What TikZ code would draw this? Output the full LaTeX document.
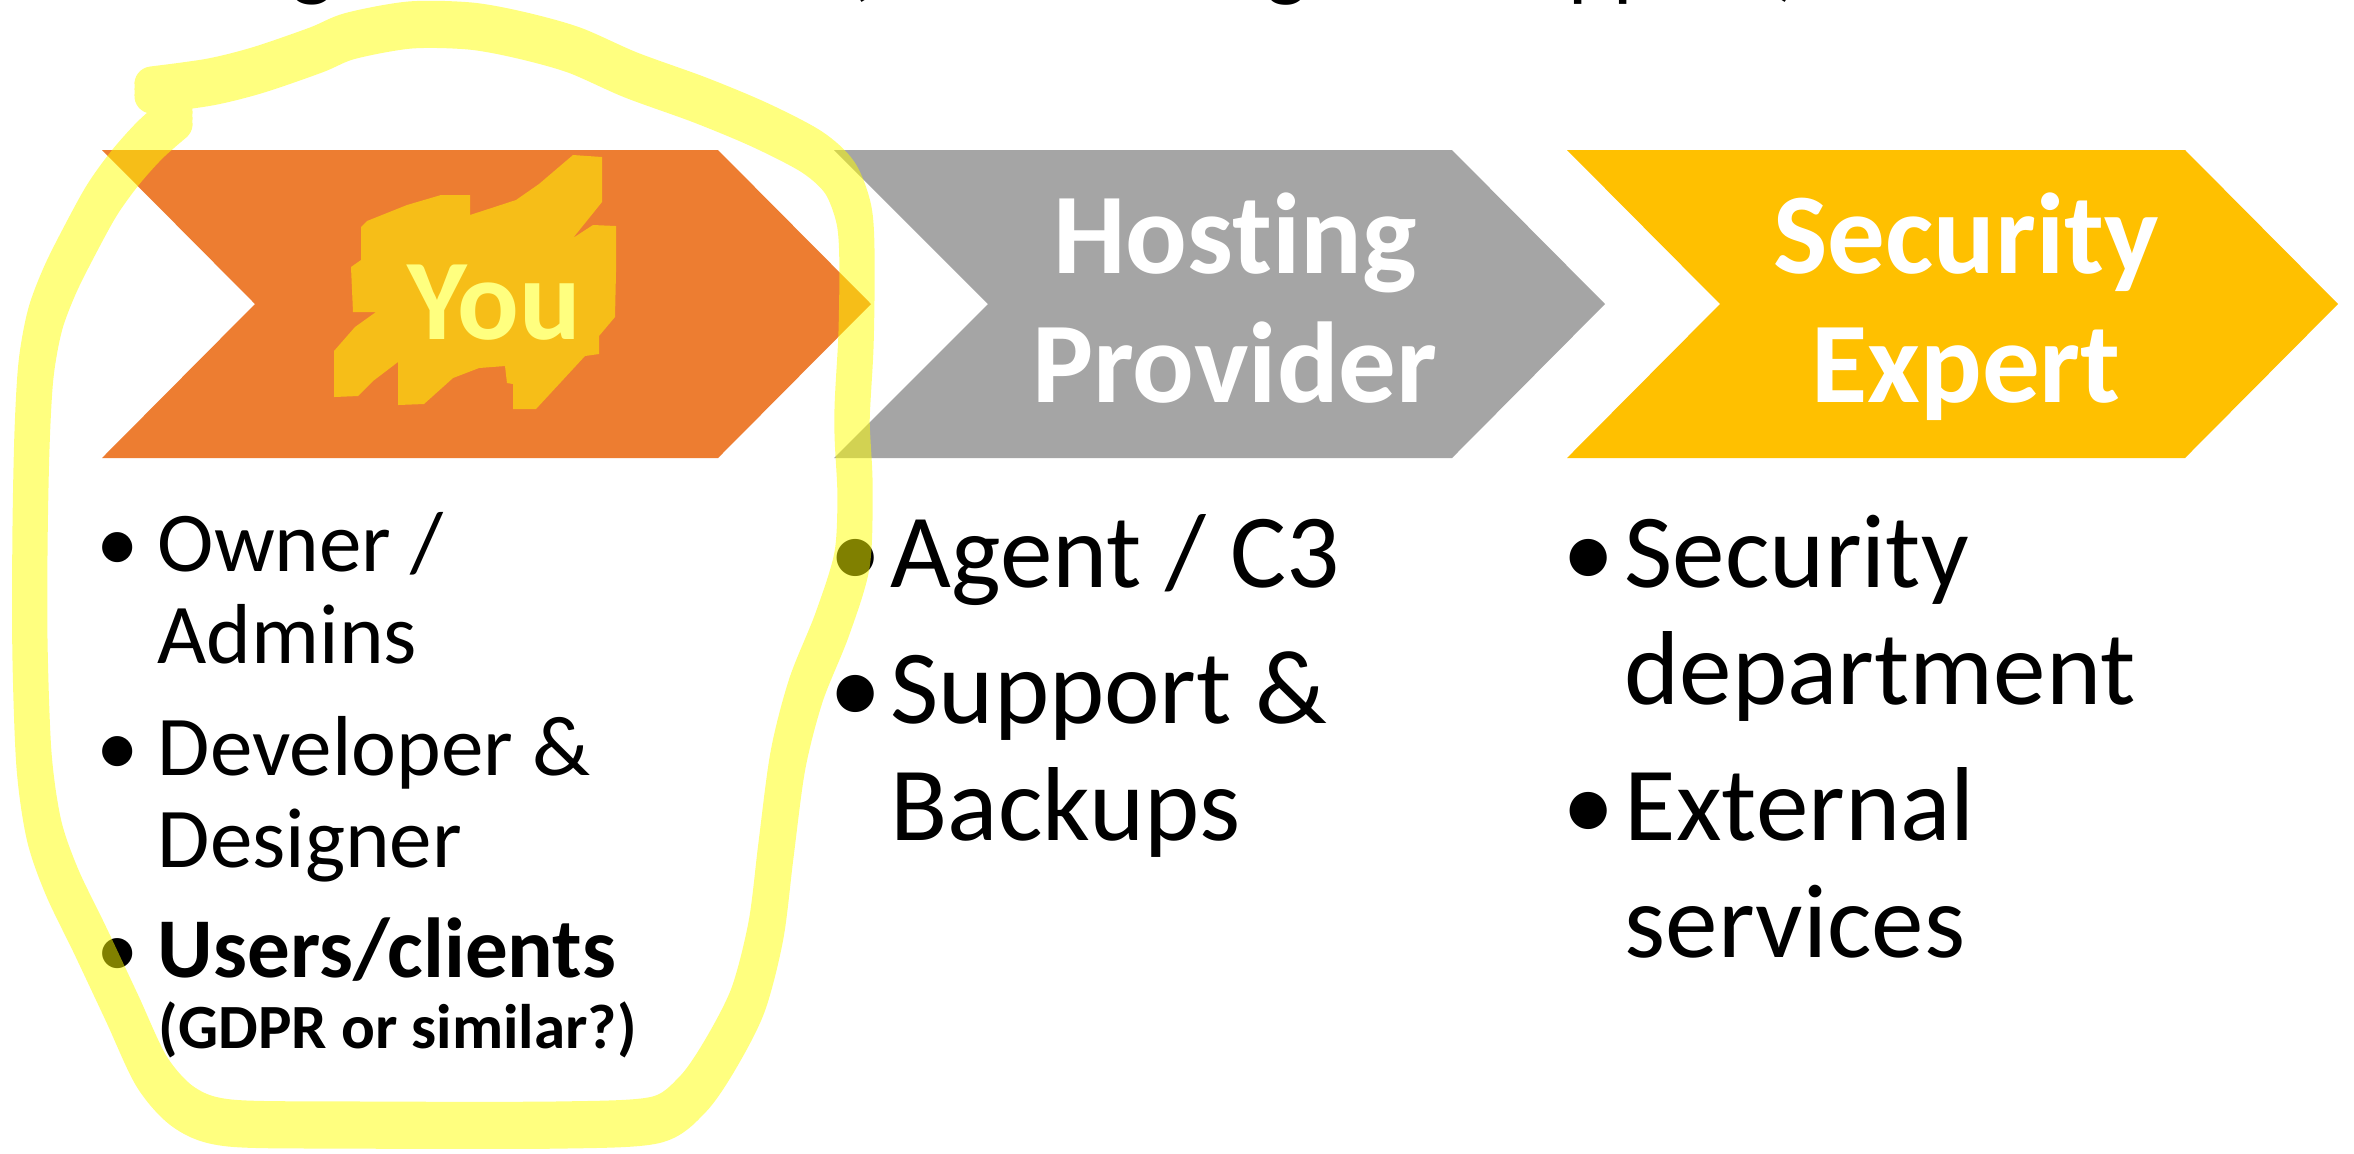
\documentclass[tikz,border=0pt]{standalone}
\usepackage{fontspec}
\setmainfont{Carlito}[Ligatures={NoCommon,NoContextual}]
\definecolor{chevOrange}{HTML}{ED7D31}
\definecolor{chevGray}{HTML}{A5A5A5}
\definecolor{chevGold}{HTML}{FFC000}
\definecolor{marker}{HTML}{FFFF00}
\tikzset{
  hdr/.style={anchor=base, inner sep=0pt, text=white, font=\fontsize{32.7}{36}\selectfont\bfseries},
  itemS/.style={anchor=base west, inner sep=0pt, font=\fontsize{24.2}{28}\selectfont},
  itemSb/.style={itemS, font=\fontsize{24.2}{28}\selectfont\bfseries},
  noteS/.style={anchor=base west, inner sep=0pt, font=\fontsize{17.9}{21}\selectfont\bfseries},
  itemL/.style={anchor=base west, inner sep=0pt, font=\fontsize{29.9}{33}\selectfont},
  dotS/.style={anchor=base, inner sep=0pt, font=\fontsize{24.2}{28}\selectfont},
  dotL/.style={anchor=base, inner sep=0pt, font=\fontsize{29.9}{33}\selectfont},
  titlefrag/.style={anchor=base, inner sep=0pt, font=\fontsize{24.5}{28}\selectfont},
  markerline/.style={draw=marker, draw opacity=0.5, line width=10pt, line cap=round, line join=round},
  markerfill/.style={fill=marker, fill opacity=0.5}
}
% centre line of the hand-drawn marker loop
\newcommand\markerloop{plot[smooth, tension=0.5] coordinates {
  (152,90) (210,82) (258,70) (316,50) (350,36) (410,25) (470,26) (520,35) (574,50)
  (631,75) (700,100) (760,125) (812,152) (840,178) (854,215) (857,260) (856,340)
  (852,420) (855,490) (852,560) (832,625) (806,690) (788,760) (776,850) (766,930)
  (748,1000) (720,1055) (692,1095) (655,1120) (560,1125) (350,1125) (230,1123)
  (185,1108) (152,1072) (122,1008) (90,940) (62,882) (44,830) (34,760) (30,650)
  (30,540) (32,440) (36,370) (45,320) (60,280) (80,240) (102,200) (125,168)
  (150,140) (175,118)}}
\begin{document}
\begin{tikzpicture}[x=0.01cm, y=-0.01cm]
\useasboundingbox (0,0) rectangle (2354,1153);
\fill[white] (0,0) rectangle (2354,1153);
\clip (0,0) rectangle (2354,1153);

% title line above the frame, only its descenders fall inside
\node[titlefrag, font=\fontsize{24.5}{28}\selectfont\bfseries] (tg1) at (313,-10) {g};
\node[titlefrag] (tpar1) at (858,-10) {(};
\node[titlefrag] (tg2) at (1287,-10) {g};
\node[titlefrag, anchor=base west] (tpp) at (1568,-10) {pp};
\node[titlefrag] (tpar2) at (1790,-10) {)};

% process chevrons
\fill[chevOrange] (102,150) -- (718,150) -- (871,304) -- (718,458) -- (102,458) -- (255,304) -- cycle;
\fill[chevGray] (834,150) -- (1452,150) -- (1605,304) -- (1452,458) -- (834,458) -- (988,304) -- cycle;
\fill[chevGold] (1567,150) -- (2185,150) -- (2338,304) -- (2185,458) -- (1567,458) -- (1720,304) -- cycle;

% chevron headings
\node[hdr] (you) at (494,339) {You};
\node[hdr] (hosting) at (1235,273) {Hosting};
\node[hdr] (provider) at (1235,402) {Provider};
\node[hdr] (security) at (1966,273) {Security};
\node[hdr] (expert) at (1966,402) {Expert};

% left list
\node[dotS] (b1) at (118,571) {•};
\node[itemS] (owner) at (157,571) {Owner /};
\node[itemS] (admins) at (157,663) {Admins};
\node[dotS] (b2) at (118,775) {•};
\node[itemS] (dev) at (157,775) {Developer \&};
\node[itemS] (designer) at (157,867) {Designer};
\node[dotS] (b3) at (118,977) {•};
\node[itemSb] (users) at (157,977) {Users/clients};
\node[noteS] (gdpr) at (158,1048) {(GDPR or similar?)};

% middle list
\node[dotL] (b4) at (856,587) {•};
\node[itemL] (agent) at (890,587) {Agent / C3};
\node[dotL] (b5) at (856,723) {•};
\node[itemL] (support) at (890,723) {Support \&};
\node[itemL] (backups) at (890,840) {Backups};

% right list
\node[dotL] (b6) at (1589,587) {•};
\node[itemL] (secdep) at (1624,587) {Security};
\node[itemL] (dept) at (1624,704) {department};
\node[dotL] (b7) at (1589,840) {•};
\node[itemL] (ext) at (1624,840) {External};
\node[itemL] (services) at (1624,957) {services};

% marker scribble behind the word
\fill[markerfill] (573,155) -- (602,157) -- (602,202) -- (573,238) -- (593,225) -- (616,226)
  -- (616,272) -- (615,317) -- (599,336) -- (599,354) -- (585,356) -- (536,409) -- (513,409)
  -- (513,384) -- (507,383) -- (505,366) -- (479,368) -- (453,378) -- (424,404) -- (398,405)
  -- (398,362) -- (373,381) -- (358,396) -- (334,397) -- (334,351) -- (355,327) -- (376,312)
  -- (353,312) -- (351,267) -- (361,260) -- (361,227) -- (367,221) -- (407,205) -- (441,195)
  -- (470,195) -- (470,215) -- (516,200) -- (539,184) -- cycle;

% marker loop: one stroke of a flat nib, built from shifted passes painted at once
\draw[markerline] {[yshift=0.06cm] \markerloop} \markerloop {[yshift=-0.06cm] \markerloop};
\end{tikzpicture}
\end{document}
